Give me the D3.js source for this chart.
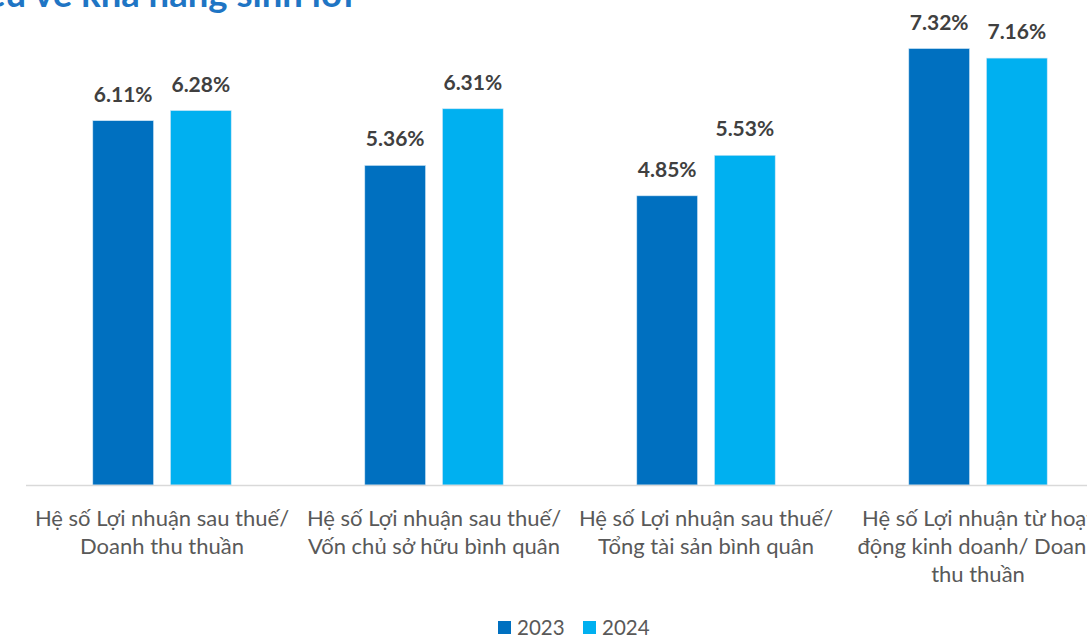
<!DOCTYPE html>
<html>
<head>
<meta charset="utf-8">
<script src="https://cdn.jsdelivr.net/npm/d3@7"></script>
<style>
  html, body { margin: 0; padding: 0; background: #ffffff; overflow: hidden; }
  svg { display: block; }
</style>
</head>
<body>
<svg id="chart" width="1087" height="637"></svg>
<script>
// Profitability ratios, 2023 vs 2024
const titleText = "Chỉ tiêu về khả năng sinh lời";
const categories = [
  ["Hệ số Lợi nhuận sau thuế/", "Doanh thu thuần"],
  ["Hệ số Lợi nhuận sau thuế/", "Vốn chủ sở hữu bình quân"],
  ["Hệ số Lợi nhuận sau thuế/", "Tổng tài sản bình quân"],
  ["Hệ số Lợi nhuận từ hoạt", "động kinh doanh/ Doanh", "thu thuần"]
];
const seriesNames = ["2023", "2024"];
const values2023 = [6.11, 5.36, 4.85, 7.32];
const values2024 = [6.28, 6.31, 5.53, 7.16];
const seriesColors = ["#0070C0", "#00B0F0"];

const svg = d3.select("#chart");
const font = "Lato, 'Open Sans', sans-serif";

const plot = { left: 26, right: 1114, top: 8, bottom: 485 };

const x0 = d3.scaleBand()
  .domain(d3.range(categories.length))
  .range([plot.left, plot.right])
  .paddingInner(0)
  .paddingOuter(0);

const x1 = d3.scaleBand()
  .domain(seriesNames)
  .range([0, x0.bandwidth()])
  .paddingInner(0.218)
  .paddingOuter(0.86);

const y = d3.scaleLinear().domain([0, 8]).range([plot.bottom, plot.top]);

// title (top of the page block, partly above the frame)
svg.append("text")
  .attr("x", 353).attr("y", 7)
  .attr("text-anchor", "end")
  .attr("font-family", font)
  .attr("font-weight", 700)
  .attr("font-size", 36.5)
  .attr("fill", "#1F75C4")
  .text(titleText);

const rows = categories.map((c, i) => ({
  i, vals: [values2023[i], values2024[i]]
}));

const groups = svg.append("g").selectAll("g")
  .data(rows).join("g")
  .attr("transform", d => `translate(${x0(d.i)},0)`);

groups.selectAll("rect")
  .data(d => d.vals.map((v, k) => ({ v, k })))
  .join("rect")
  .attr("x", d => x1(seriesNames[d.k]))
  .attr("width", x1.bandwidth())
  .attr("y", d => y(d.v))
  .attr("height", d => y(0) - y(d.v))
  .attr("fill", d => seriesColors[d.k])
  .attr("stroke", "#cfe6f5")
  .attr("stroke-width", 0.6);

groups.selectAll("text.val")
  .data(d => d.vals.map((v, k) => ({ v, k })))
  .join("text")
  .attr("class", "val")
  .attr("x", d => x1(seriesNames[d.k]) + x1.bandwidth() / 2)
  .attr("y", d => y(d.v) - 19)
  .attr("text-anchor", "middle")
  .attr("font-family", font)
  .attr("font-weight", 700)
  .attr("font-size", 21)
  .attr("fill", "#404040")
  .text(d => d3.format(".2f")(d.v) + "%");

// baseline axis
svg.append("line")
  .attr("x1", plot.left).attr("x2", plot.right)
  .attr("y1", y(0) + 0.5).attr("y2", y(0) + 0.5)
  .attr("stroke", "#d9d9d9")
  .attr("stroke-width", 1.5);

// category labels
const labels = svg.append("g").selectAll("text")
  .data(categories).join("text")
  .attr("x", (d, i) => x0(i) + x0.bandwidth() / 2)
  .attr("y", 526)
  .attr("text-anchor", "middle")
  .attr("font-family", font)
  .attr("font-size", 22)
  .attr("fill", "#595959");

labels.selectAll("tspan")
  .data(d => d).join("tspan")
  .attr("x", function () { return d3.select(this.parentNode).attr("x"); })
  .attr("dy", (d, j) => j === 0 ? 0 : 28)
  .text(d => d);

// legend
const legend = svg.append("g").attr("transform", "translate(498,621)");
const legendX = [0, 85];
seriesNames.forEach((name, k) => {
  const g = legend.append("g").attr("transform", `translate(${legendX[k]},0)`);
  g.append("rect").attr("width", 13).attr("height", 13).attr("fill", seriesColors[k]);
  g.append("text")
    .attr("x", 19).attr("y", 14)
    .attr("font-family", font)
    .attr("font-size", 20.5)
    .attr("fill", "#595959")
    .text(name);
});
</script>
</body>
</html>
